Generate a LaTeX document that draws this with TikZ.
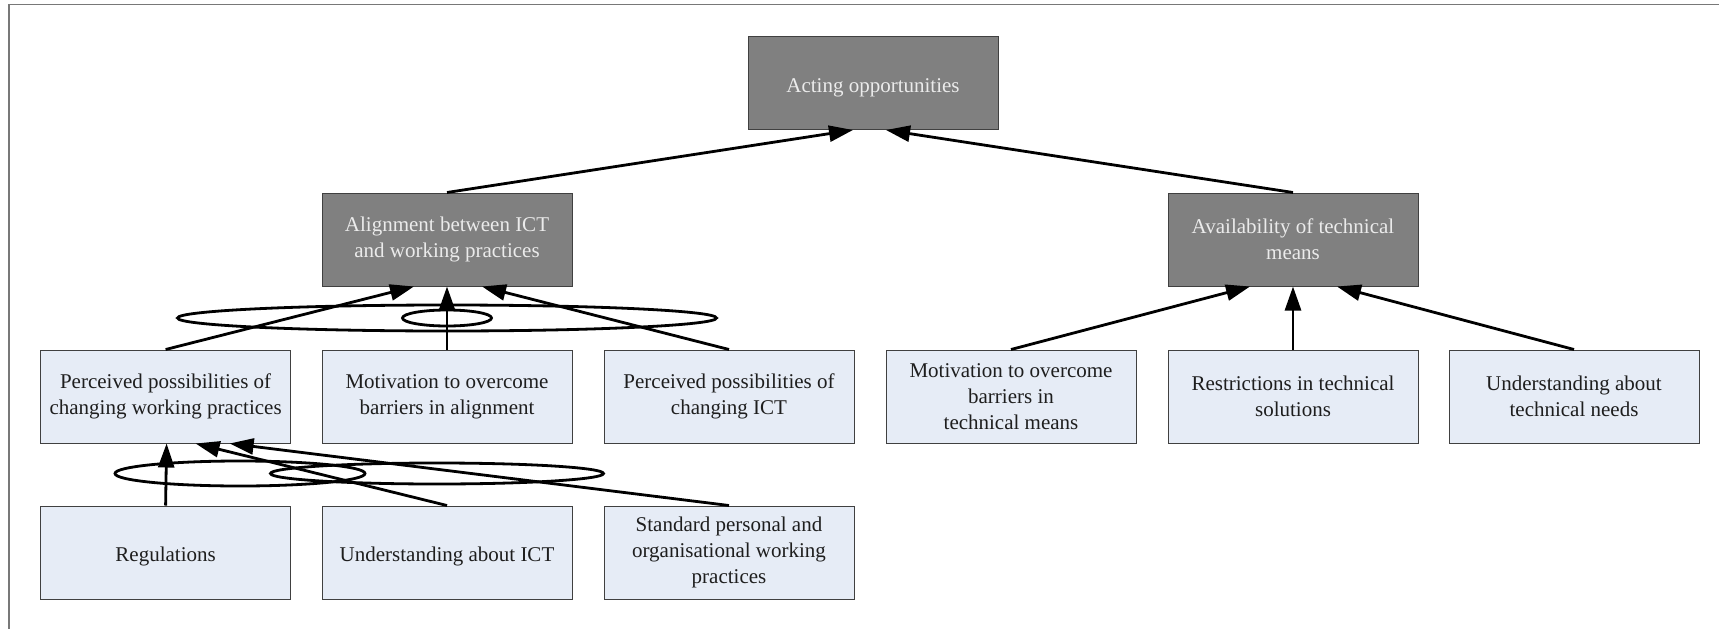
\documentclass[tikz,border=0pt]{standalone}
\usepackage{fontspec}
\setmainfont{Liberation Serif}
\usetikzlibrary{arrows.meta}
\definecolor{darkfill}{RGB}{128,128,128}
\definecolor{lightfill}{RGB}{230,236,246}
\definecolor{boxline}{RGB}{64,64,64}
\definecolor{darktext}{RGB}{235,235,235}
\definecolor{lighttext}{RGB}{30,30,30}
\definecolor{framegray}{RGB}{120,120,120}
\tikzset{
  box/.style={draw=boxline, line width=1pt, minimum width=250pt, minimum height=93pt,
    inner sep=0pt, align=center, font=\fontsize{21pt}{26pt}\selectfont,
    execute at begin node={\rule{0pt}{23.5pt}}},
  darkbox/.style={box, fill=darkfill, text=darktext},
  lightbox/.style={box, fill=lightfill, text=lighttext},
  arr/.style={line width=2.8pt, -{Triangle[length=24pt,width=16pt]}},
  loop/.style={line width=2.8pt},
}
\begin{document}
\begin{tikzpicture}[x=1pt, y=-1pt]
  \useasboundingbox (0,0) rectangle (1719,629);
  % partial frame: top and left edges
  \draw[framegray, line width=1.6pt] (9,629) -- (9,4.6) -- (1719,4.6);

  % top level
  \node[darkbox] (top) at (873,83) {Acting opportunities};

  % second level
  \node[darkbox] (align) at (447,239.5) {Alignment between ICT\\and working practices};
  \node[darkbox] (avail) at (1293,239.5) {Availability of technical\\means};

  % third level
  \node[lightbox] (pwp)  at (165.6,396.5) {Perceived possibilities of\\changing working practices};
  \node[lightbox] (mal)  at (447,396.5)   {Motivation to overcome\\barriers in alignment};
  \node[lightbox] (pict) at (729,396.5)   {Perceived possibilities of\\changing ICT};
  \node[lightbox] (mtm)  at (1011,396.5)  {Motivation to overcome\\barriers in\\technical means};
  \node[lightbox] (rts)  at (1293,396.5)  {Restrictions in technical\\solutions};
  \node[lightbox] (utn)  at (1574,396.5)  {Understanding about\\technical needs};

  % fourth level
  \node[lightbox] (reg)  at (165.6,552.5) {Regulations};
  \node[lightbox] (uict) at (447,552.5)   {Understanding about ICT};
  \node[lightbox] (std)  at (729,552.5)   {Standard personal and\\organisational working\\practices};

  % arrows into the top node
  \draw[arr] (align.north) -- ([xshift=-20pt]top.south);
  \draw[arr] (avail.north) -- ([xshift=13pt]top.south);

  % arrows into the alignment node
  \draw[arr] (pwp.north)  -- ([xshift=-33pt]align.south);
  \draw[arr] (mal.north)  -- (align.south);
  \draw[arr] (pict.north) -- ([xshift=35pt]align.south);

  % arrows into the availability node
  \draw[arr] (mtm.north) -- ([xshift=-43pt]avail.south);
  \draw[arr] (rts.north) -- (avail.south);
  \draw[arr] (utn.north) -- ([xshift=44pt]avail.south);

  % arrows into the working practices node
  \draw[arr] (reg.north)  -- ([xshift=1pt]pwp.south);
  \draw[arr] (uict.north) -- ([xshift=30pt]pwp.south);
  \draw[arr] (std.north)  -- ([xshift=64pt]pwp.south);

  % interaction loops
  \draw[loop] (447,318) ellipse [x radius=269.5, y radius=13];
  \draw[loop] (447,318) ellipse [x radius=44.5, y radius=8];
  \draw[loop] (240,473.5) ellipse [x radius=125, y radius=12.5];
  \draw[loop] (437,473.5) ellipse [x radius=166.5, y radius=10.5];
\end{tikzpicture}
\end{document}
